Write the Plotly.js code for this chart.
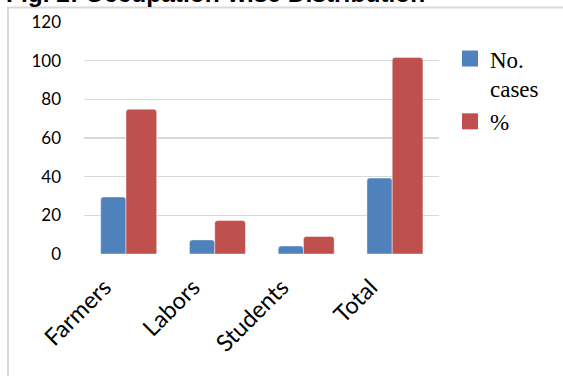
<!DOCTYPE html>
<html>
<head>
<meta charset="utf-8">
<script src="https://cdn.plot.ly/plotly-3.0.1.min.js"></script>
<style>
  html, body { margin: 0; padding: 0; background: #ffffff; }
  #chart { width: 563px; height: 376px; }
</style>
</head>
<body>
<div id="chart"></div>
<script>
// Occupation-wise distribution of cases
var categories = ['Farmers', 'Labors', 'Students', 'Total'];
var casesCount = [29.5, 7.3, 4.1, 39.3];
var casesPercent = [74.9, 17.3, 9.1, 101.7];
var seriesNames = ['No.<br>cases', '%'];
var yTicks = [0, 20, 40, 60, 80, 100, 120];

var blue = '#4f81bd';
var red = '#c0504d';

var traces = [
  {
    type: 'bar', x: categories, y: casesCount, name: seriesNames[0],
    offset: -0.312, width: 0.285, showlegend: false,
    marker: { color: blue, line: { color: 'rgba(255,255,255,0.55)', width: 0.8 } }
  },
  {
    type: 'bar', x: categories, y: casesPercent, name: seriesNames[1],
    offset: -0.027, width: 0.346, showlegend: false,
    marker: { color: red, line: { color: 'rgba(255,255,255,0.55)', width: 0.8 } }
  },
  // legend keys for the two series
  {
    type: 'scatter', mode: 'markers', x: [null], y: [null], name: seriesNames[0],
    marker: { symbol: 'square', size: 16, color: blue }, hoverinfo: 'skip'
  },
  {
    type: 'scatter', mode: 'markers', x: [null], y: [null], name: seriesNames[1],
    marker: { symbol: 'square', size: 16, color: red }, hoverinfo: 'skip'
  }
];

var layout = {
  width: 563, height: 376,
  margin: { l: 84, r: 124, t: 21.5, b: 121.7, pad: 0 },
  paper_bgcolor: '#ffffff', plot_bgcolor: '#ffffff',
  barmode: 'overlay',
  barcornerradius: 3,
  title: {
    text: '<b>Fig. 2: Occupation-wise Distribution</b>',
    font: { family: 'Liberation Sans, Arial, sans-serif', size: 24.5, color: '#000000' },
    xref: 'container', yref: 'container', x: 6 / 563, xanchor: 'left',
    y: 1 - 2 / 376, yanchor: 'bottom'
  },
  xaxis: {
    type: 'category', range: [-0.5, 3.5], tickangle: -45,
    showline: false, showgrid: false, zeroline: false, ticks: '',
    ticklabelstandoff: 14, ticklabelshift: -24,
    tickfont: { family: 'Lato, sans-serif', size: 23.5, color: '#000000' }
  },
  yaxis: {
    range: [0, 120], tickvals: yTicks, ticktext: yTicks.map(String),
    showline: false, zeroline: false, ticks: '',
    showgrid: true, gridcolor: '#d9d9d9', gridwidth: 1.5,
    ticklabelstandoff: 22,
    tickfont: { family: 'Lato, sans-serif', size: 17, color: '#000000' }
  },
  legend: {
    x: 1.031, xanchor: 'left', y: 0.935, yanchor: 'top',
    valign: 'top', tracegroupgap: 6,
    bgcolor: 'rgba(0,0,0,0)',
    font: { family: 'Liberation Serif, Times New Roman, serif', size: 23, color: '#000000' }
  },
  shapes: [
    {
      type: 'rect', xref: 'paper', yref: 'paper',
      x0: (8 - 84) / 355, x1: (566 - 84) / 355,
      y0: (254.3 - 380) / 232.8, y1: (254.3 - 7) / 232.8,
      line: { color: '#d9d9d9', width: 2 }, fillcolor: 'rgba(0,0,0,0)', layer: 'below'
    }
  ],
  showlegend: true
};

Plotly.newPlot('chart', traces, layout, { staticPlot: true, displayModeBar: false });
</script>
</body>
</html>
